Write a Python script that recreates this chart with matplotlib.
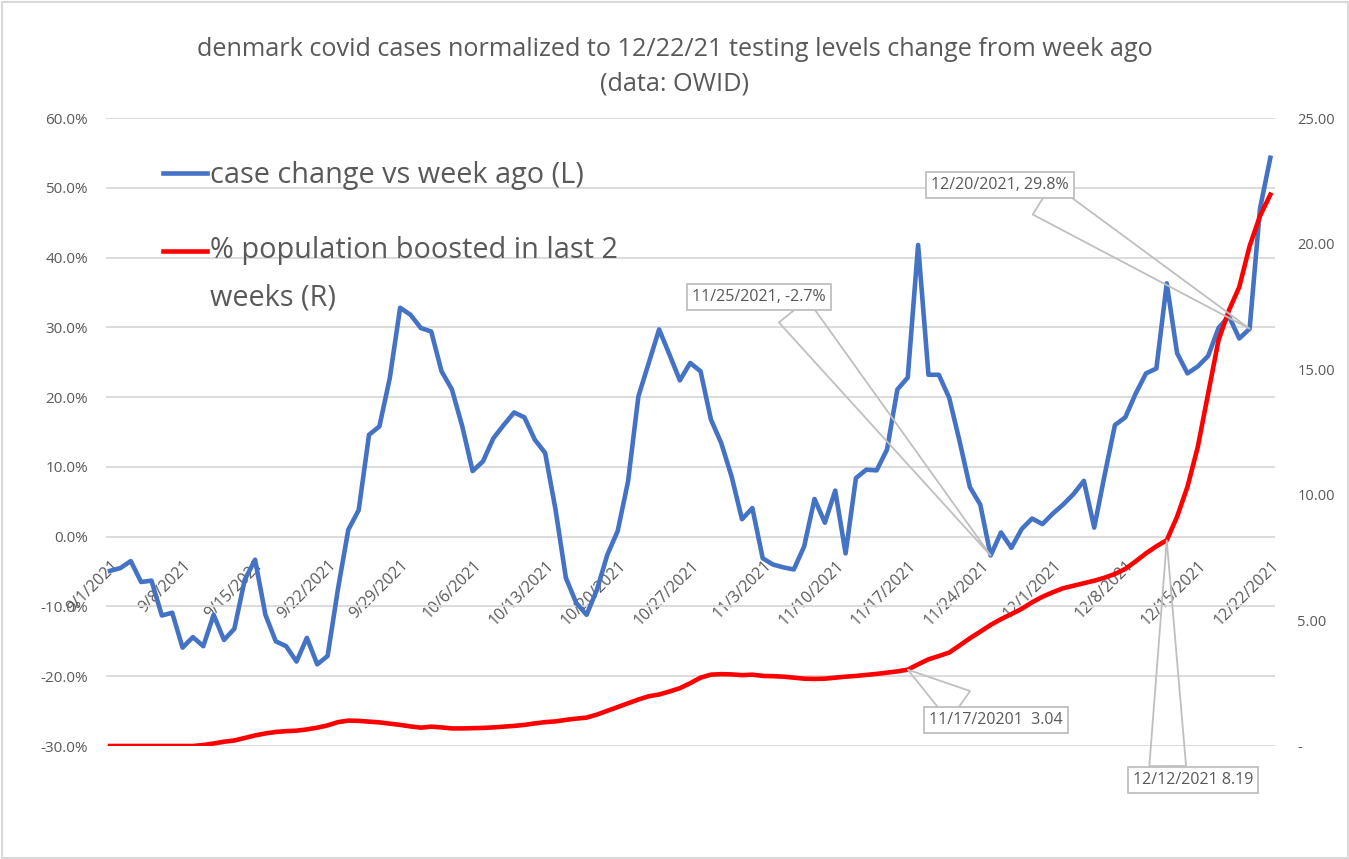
import matplotlib
matplotlib.use('Agg')
import matplotlib.pyplot as plt
import numpy as np
from matplotlib.ticker import FixedLocator, FuncFormatter
from matplotlib.transforms import ScaledTranslation
from matplotlib.patches import Rectangle

plt.rcParams['font.family'] = ['Open Sans', 'DejaVu Sans']

# ---------------- data ----------------
title_text = ("denmark covid cases normalized to 12/22/21 testing levels change from week ago\n"
              "(data: OWID)")

# daily values, 9/1/2021 .. 12/22/2021
case_change = [  # % change vs week ago (left axis)
    -4.9, -4.5, -3.5, -6.5, -6.3, -11.3, -10.9, -15.9, -14.4, -15.7,
    -11.2, -14.8, -13.2, -6.2, -3.3, -11.2, -15.0, -15.7, -17.9, -14.5,
    -18.3, -17.1, -7.5, 1.0, 3.8, 14.6, 15.8, 22.7, 32.8, 31.8,
    29.9, 29.4, 23.7, 21.1, 15.8, 9.4, 10.8, 14.1, 16.0, 17.8,
    17.1, 13.9, 12.0, 3.9, -5.9, -9.5, -11.2, -7.6, -2.6, 0.8,
    7.9, 20.1, 24.9, 29.7, 26.1, 22.4, 24.9, 23.7, 16.8, 13.4,
    8.6, 2.5, 4.1, -3.1, -4.0, -4.4, -4.7, -1.4, 5.4, 2.0,
    6.6, -2.4, 8.4, 9.6, 9.5, 12.5, 21.1, 22.8, 41.8, 23.2,
    23.2, 19.9, 13.7, 7.1, 4.6, -2.7, 0.6, -1.6, 1.1, 2.6,
    1.8, 3.3, 4.6, 6.1, 8.0, 1.3, 8.8, 16.0, 17.1, 20.5,
    23.4, 24.1, 36.3, 26.3, 23.4, 24.4, 25.9, 29.9, 31.6, 28.4,
    29.8, 47.0, 54.3,
]
boosted = [  # % population boosted in last 2 weeks (right axis)
    0.0, 0.0, 0.0, 0.0, 0.0, 0.0, 0.0, 0.0, 0.0, 0.04,
    0.10, 0.17, 0.22, 0.32, 0.42, 0.50, 0.56, 0.59, 0.61, 0.66,
    0.73, 0.82, 0.95, 1.01, 1.00, 0.97, 0.94, 0.89, 0.84, 0.78,
    0.73, 0.77, 0.74, 0.70, 0.70, 0.71, 0.72, 0.74, 0.77, 0.80,
    0.84, 0.90, 0.95, 0.98, 1.04, 1.09, 1.13, 1.25, 1.40, 1.55,
    1.70, 1.85, 1.98, 2.05, 2.17, 2.30, 2.50, 2.72, 2.84, 2.86,
    2.85, 2.82, 2.84, 2.79, 2.78, 2.76, 2.72, 2.68, 2.67, 2.68,
    2.72, 2.76, 2.79, 2.83, 2.87, 2.92, 2.97, 3.04, 3.25, 3.45,
    3.58, 3.72, 4.00, 4.29, 4.55, 4.82, 5.05, 5.25, 5.46, 5.72,
    5.94, 6.12, 6.28, 6.38, 6.48, 6.58, 6.70, 6.85, 7.05, 7.35,
    7.67, 7.95, 8.19, 9.13, 10.32, 11.91, 14.04, 16.16, 17.34, 18.27,
    19.90, 21.10, 21.95,
]
assert len(case_change) == len(boosted) == 113

tick_days = [0, 7, 14, 21, 28, 35, 42, 49, 56, 63, 70, 77, 84, 91, 98, 105, 112]
tick_labels = ['9/1/2021', '9/8/2021', '9/15/2021', '9/22/2021', '9/29/2021',
               '10/6/2021', '10/13/2021', '10/20/2021', '10/27/2021', '11/3/2021',
               '11/10/2021', '11/17/2021', '11/24/2021', '12/1/2021', '12/8/2021',
               '12/15/2021', '12/22/2021']
left_ticks = [-30, -20, -10, 0, 10, 20, 30, 40, 50, 60]
right_ticks = [0, 5, 10, 15, 20, 25]
right_tick_labels = ['-', '5.00', '10.00', '15.00', '20.00', '25.00']

series_labels = ['case change vs week ago (L)', '% population boosted in last 2\nweeks (R)']

# callouts: (series, day index, text)
callouts = [
    ('case', 85, '11/25/2021, -2.7%'),
    ('case', 110, '12/20/2021, 29.8%'),
    ('boost', 77, '11/17/20201  3.04'),
    ('boost', 102, '12/12/2021 8.19'),
]
# layout of callout boxes (image px centre) and pointer base (fraction of box)
callout_text_pos = [(759, 297), (1000, 185), (996, 720), (1193, 780)]
callout_relpos = [(0.72, 0.0), (0.74, 0.0), (0.29, 1.0), (0.29, 1.0)]

# ---------------- styling ----------------
W, H = 1349, 859
TXT = '#595959'
GRID = '#d9d9d9'
BLUE = '#4472C4'
RED = '#FF0000'

fig = plt.figure(figsize=(W / 100, H / 100), dpi=100)
fig.patch.set_facecolor('white')

x0, x1, ytop, ybot = 106, 1275, 118, 746
ax = fig.add_axes([x0 / W, 1 - ybot / H, (x1 - x0) / W, (ybot - ytop) / H])
days = np.arange(len(case_change))

(l1,) = ax.plot(days, case_change, color=BLUE, lw=3.3, zorder=3)
ax.set_xlim(-0.39, 112.45)
ax.set_ylim(-30, 60)
ax.yaxis.set_major_locator(FixedLocator(left_ticks))
ax.yaxis.set_major_formatter(FuncFormatter(lambda v, p: f'{v:.1f}%'))
ax.yaxis.grid(True, color=GRID, lw=1.3)
ax.set_axisbelow(True)
for s in ['left', 'right', 'top']:
    ax.spines[s].set_visible(False)
ax.spines['bottom'].set_position(('data', 0))
ax.spines['bottom'].set_color('none')
ax.set_xticks(tick_days)
ax.set_xticklabels(tick_labels, rotation=45, ha='right', rotation_mode='anchor')
ax.tick_params(axis='x', length=0, pad=15, labelcolor=TXT, labelsize=11.5)
ax.tick_params(axis='y', length=0, pad=13, labelcolor=TXT, labelsize=11)
for lbl in ax.get_xticklabels():
    lbl.set_transform(lbl.get_transform() + ScaledTranslation(0.5 / 100, 0, fig.dpi_scale_trans))

ax2 = ax.twinx()
(l2,) = ax2.plot(days, boosted, color=RED, lw=3.3, zorder=3)
ax2.set_ylim(0, 25)
ax2.yaxis.set_major_locator(FixedLocator(right_ticks))
ax2.set_yticklabels(right_tick_labels)
ax2.tick_params(axis='y', length=0, pad=16, labelcolor=TXT, labelsize=10.5)
for s in ax2.spines.values():
    s.set_visible(False)

# legend
leg = ax.legend([l1, l2], series_labels, loc='upper left',
                bbox_to_anchor=(163 / W, 1 - 161 / H), bbox_transform=fig.transFigure,
                frameon=False, fontsize=20.8, handlelength=1.52, handletextpad=0.1,
                labelspacing=1.6, borderpad=0, borderaxespad=0)
for t in leg.get_texts():
    t.set_color(TXT)
leg.get_texts()[1].set_linespacing(1.85)
h2 = leg.legend_handles[1]
h2.set_ydata(np.asarray(h2.get_ydata()) + 17.5)

# callouts
for (ser, d, txt), (tx, ty), rp in zip(callouts, callout_text_pos, callout_relpos):
    if ser == 'case':
        xy, trans = (days[d], case_change[d]), ax.transData
    else:
        xy, trans = (days[d], boosted[d]), ax2.transData
    ax2.annotate(txt, xy=xy, xycoords=trans, xytext=(tx, H - ty), textcoords='figure pixels',
                 ha='center', va='center', fontsize=11.5, color=TXT, zorder=10,
                 bbox=dict(boxstyle='square,pad=0.33', fc='white', ec='#bfbfbf', lw=1.3),
                 arrowprops=dict(arrowstyle='wedge,tail_width=2.3,shrink_factor=0.5',
                                 fc='none', ec='#bfbfbf', lw=1.3, shrinkA=0, shrinkB=0,
                                 relpos=rp))

fig.text(0.5, 1 - 66.5 / H, title_text, ha='center', va='center', fontsize=18.2,
         color=TXT, linespacing=1.5)

fig.add_artist(Rectangle((1.5 / W, 1.5 / H), 1 - 3 / W, 1 - 3 / H, transform=fig.transFigure,
                         fill=False, ec=GRID, lw=1.5))

fig.savefig('out.png', dpi=100)
